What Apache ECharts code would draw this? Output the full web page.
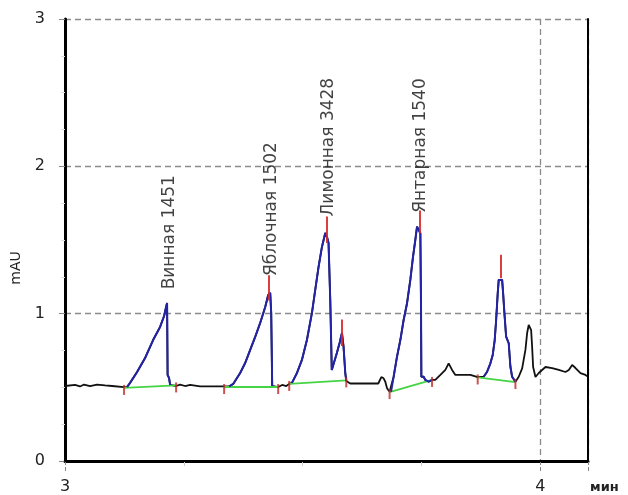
<!DOCTYPE html>
<html>
<head>
<meta charset="utf-8">
<script src="https://cdn.jsdelivr.net/npm/echarts@6/dist/echarts.min.js"></script>
<style>html,body{margin:0;padding:0;background:#fff}#c{width:628px;height:495px}</style>
</head>
<body>
<div id="c"></div>
<script>
// Chromatogram trace (time, min; signal, mAU)
const time = [
  3.0000,3.0211,3.0316,3.0400,3.0526,3.0674,3.0842,3.0989,3.1242,
  3.1305,3.1368,3.1516,3.1684,3.1853,3.2000,3.2084,3.2126,3.2147,3.2158,3.2189,3.2211,
  3.2337,3.2421,3.2526,3.2632,3.2842,3.3053,3.3347,
  3.3453,3.3537,3.3684,3.3789,3.3895,3.4000,3.4105,3.4211,3.4274,3.4316,3.4337,3.4358,
  3.4484,3.4568,3.4653,3.4716,
  3.4773,3.4878,3.4983,3.5088,3.5194,3.5263,3.5333,3.5404,3.5474,3.5516,3.5543,3.5579,3.5611,3.5648,3.5718,3.5775,3.5825,3.5859,3.5895,3.5916,
  3.6000,3.6211,3.6589,3.6653,3.6701,3.6737,3.6773,3.6827,
  3.6857,3.6912,3.6983,3.7053,3.7122,3.7194,3.7263,3.7320,3.7368,3.7404,3.7438,3.7474,3.7488,3.7495,3.7543,3.7579,3.7648,3.7720,
  3.7789,3.7895,3.8000,3.8069,3.8141,3.8211,3.8316,3.8526,3.8680,
  3.8806,3.8878,3.8947,3.8996,3.9038,3.9068,3.9101,3.9122,3.9158,3.9194,3.9215,3.9242,3.9278,3.9333,3.9368,3.9404,3.9474,
  3.9543,3.9615,3.9684,3.9720,3.9753,3.9789,3.9804,3.9825,3.9846,3.9895,3.9964,4.0105,4.0246,4.0385,4.0526,4.0596,4.0667,4.0737,4.0842,4.0947,4.1011
];
const signal = [
  0.509,0.516,0.506,0.519,0.509,0.519,0.513,0.509,0.502,
  0.502,0.530,0.604,0.699,0.821,0.910,0.984,1.045,1.073,0.584,0.563,0.516,
  0.509,0.519,0.509,0.516,0.506,0.506,0.506,
  0.506,0.523,0.597,0.665,0.754,0.842,0.937,1.045,1.127,1.141,1.005,0.509,
  0.502,0.516,0.509,0.523,
  0.530,0.597,0.686,0.821,1.005,1.161,1.317,1.453,1.548,1.514,1.480,1.093,0.618,0.611,0.733,0.801,0.869,0.774,0.597,0.543,
  0.526,0.526,0.526,0.570,0.561,0.538,0.494,0.470,
  0.470,0.572,0.708,0.821,0.957,1.071,1.229,1.387,1.500,1.591,1.602,1.546,1.048,0.572,0.572,0.550,0.538,0.550,
  0.550,0.584,0.618,0.663,0.618,0.584,0.584,0.584,0.570,
  0.572,0.606,0.663,0.720,0.821,0.957,1.138,1.229,1.240,1.229,1.138,1.003,0.844,0.799,0.640,0.572,0.538,
  0.572,0.629,0.754,0.869,0.923,0.935,0.889,0.774,0.638,0.570,0.597,0.638,0.631,0.618,0.604,0.618,0.652,0.631,0.597,0.584,0.570
];

// Integrated peak windows (blue part of the trace)
const peakFrom = [3.1305, 3.3453, 3.4773, 3.6857, 3.8806];
const peakTo   = [3.2211, 3.4358, 3.5916, 3.7720, 3.9474];

// Peak baselines (green) with start/end markers (red)
const baseStartT = [3.1242, 3.3347, 3.4716, 3.6827, 3.8680];
const baseStartV = [0.496, 0.502, 0.523, 0.468, 0.567];
const baseEndT   = [3.2337, 3.4484, 3.5916, 3.7720, 3.9474];
const baseEndV   = [0.513, 0.502, 0.547, 0.550, 0.536];

// Apex markers (red)
const apexTime = [3.4295, 3.5510, 3.5825, 3.7453, 3.9158];
const apexLow  = [1.09, 1.48, 0.78, 1.546, 1.240];
const apexHigh = [1.26, 1.66, 0.96, 1.70, 1.40];

// Peak labels
const peakNames  = ['Винная 1451', 'Яблочная 1502', 'Лимонная 3428', 'Янтарная 1540'];
const labelTime  = [3.221, 3.4352, 3.5537, 3.7474];
const labelBase  = [1.165, 1.255, 1.66, 1.685];

// Axis ticks
const xTicks = [3, 4];
const yTicks = [0, 1, 2, 3];

const FONT = 'DejaVu Sans';
const inPeak = t => peakFrom.some((a, i) => t >= a && t <= peakTo[i]);

const frameAxis = {
  axisLine: {show: true, lineStyle: {color: '#000', width: 2}},
  axisTick: {show: false}, axisLabel: {show: false}, splitLine: {show: false}, z: 5
};

const chart = echarts.init(document.getElementById('c'), null, {renderer: 'canvas'});
chart.setOption({
  animation: false,
  backgroundColor: '#fff',
  grid: {left: 65, top: 19, right: 40, bottom: 34, show: false},
  xAxis: [{
    type: 'value', min: 3, max: 4.1, interval: 1,
    name: 'мин', nameLocation: 'end', nameGap: 2,
    nameTextStyle: {fontFamily: FONT, fontSize: 13, fontWeight: 'bold', color: '#222', align: 'left', verticalAlign: 'top', padding: [20, 0, 0, 0]},
    axisLine: {lineStyle: {color: '#000', width: 3}},
    axisTick: {show: true, length: 10, lineStyle: {color: '#888', type: 'dashed'}},
    minorTick: {show: true, splitNumber: 4, length: 5, lineStyle: {color: '#ccc'}},
    axisLabel: {margin: 18, fontFamily: FONT, fontSize: 16, color: '#222', showMaxLabel: false,
      formatter: v => (xTicks.indexOf(v) >= 0 ? String(v) : '')},
    splitLine: {show: true, lineStyle: {color: '#8a8a8a', type: [6, 4], width: 1.3}}
  }, Object.assign({type: 'value', min: 3, max: 4.1, position: 'top'}, frameAxis)],
  yAxis: [{
    type: 'value', min: 0, max: 3, interval: 1,
    name: 'mAU', nameLocation: 'middle', nameGap: 42, nameRotate: 90,
    nameTextStyle: {fontFamily: FONT, fontSize: 14, color: '#222', padding: [0, 56, 0, 0]},
    axisLine: {lineStyle: {color: '#000', width: 3}},
    axisTick: {show: true, length: 6, lineStyle: {color: '#888'}},
    minorTick: {show: true, splitNumber: 4, length: 4, lineStyle: {color: '#ddd'}},
    axisLabel: {margin: 20, fontFamily: FONT, fontSize: 16, color: '#222',
      formatter: v => (yTicks.indexOf(v) >= 0 ? String(v) : '')},
    splitLine: {show: true, lineStyle: {color: '#8a8a8a', type: [6, 4], width: 1.3}}
  }, Object.assign({type: 'value', min: 0, max: 3, position: 'right'}, frameAxis)],
  series: [
    {
      type: 'line', z: 2, symbol: 'none',
      lineStyle: {color: '#111', width: 1.8},
      data: time.map((t, i) => [t, signal[i]])
    },
    {
      type: 'lines', coordinateSystem: 'cartesian2d', z: 3,
      lineStyle: {color: '#44d444', width: 1.8, opacity: 1},
      data: baseStartT.map((t, i) => ({coords: [[t, baseStartV[i]], [baseEndT[i], baseEndV[i]]]}))
    },
    {
      type: 'line', z: 4, symbol: 'none',
      lineStyle: {color: '#2323a8', width: 2},
      data: time.map((t, i) => inPeak(t) ? [t, signal[i]] : [t, '-'])
    },
    {
      type: 'lines', coordinateSystem: 'cartesian2d', z: 5,
      lineStyle: {color: '#d82a2a', width: 1.8, opacity: 1},
      data: apexTime.map((t, i) => ({coords: [[t, apexLow[i]], [t, apexHigh[i]]]}))
    },
    {
      type: 'scatter', z: 6, symbol: 'rect', symbolSize: [2, 10], symbolOffset: [0, 2],
      itemStyle: {color: '#c02828'},
      data: baseStartT.map((t, i) => [t, baseStartV[i]]).concat(baseEndT.map((t, i) => [t, baseEndV[i]]))
    },
    {
      type: 'scatter', z: 7, symbolSize: 0, silent: true,
      data: labelTime.map((t, i) => ({value: [t, labelBase[i]], name: peakNames[i]})),
      label: {
        show: true, position: [0, 0], rotate: 90, align: 'left', verticalAlign: 'middle',
        formatter: p => p.name, fontFamily: FONT, fontSize: 17, color: '#111'
      }
    }
  ]
});
</script>
</body>
</html>
